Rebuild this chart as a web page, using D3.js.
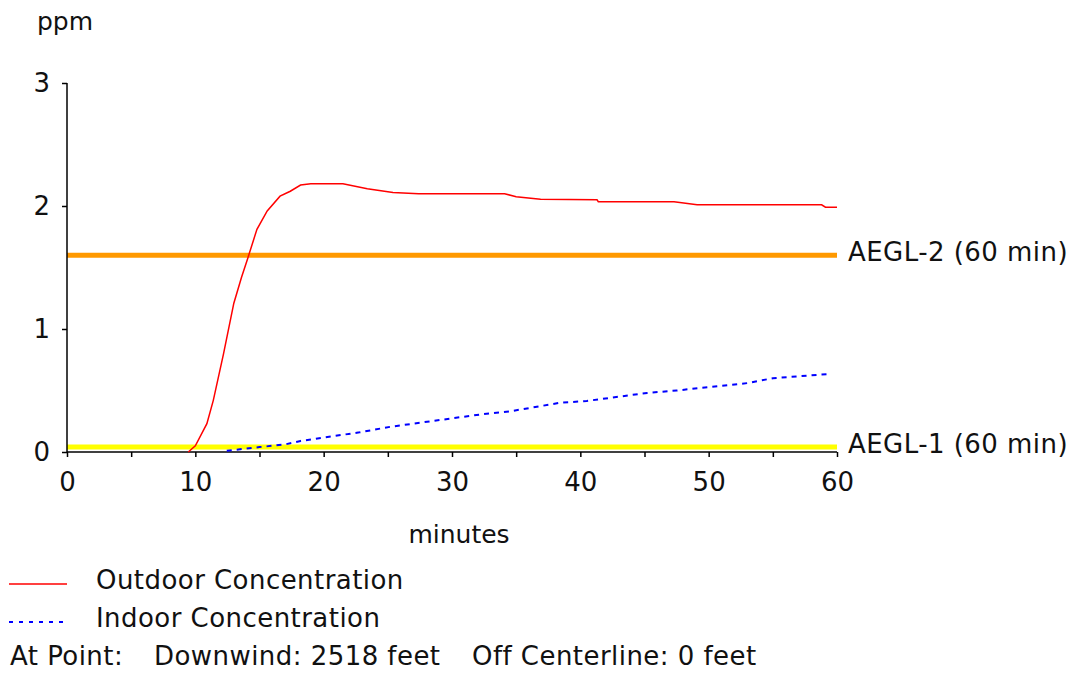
<!DOCTYPE html>
<html>
<head>
<meta charset="utf-8">
<script src="https://cdn.jsdelivr.net/npm/d3@7"></script>
<style>
  html, body { margin: 0; padding: 0; background: #fff; }
  svg { display: block; }
  text { font-family: "DejaVu Sans", Verdana, sans-serif; fill: #111; }
</style>
</head>
<body>
<svg id="chart" width="1080" height="673"></svg>
<script>
// ---- data ----
const outdoorTime = [9.45, 10.0, 10.9, 11.4, 12.2, 13.0, 13.6, 14.1, 14.8, 15.6, 16.6, 17.4, 18.2, 19.0, 21.5, 23.4, 25.4, 27.4, 34.1, 35.0, 36.9, 41.3, 41.4, 47.3, 49.1, 58.8, 59.1, 60];
const outdoorPpm  = [0, 0.05, 0.23, 0.42, 0.80, 1.21, 1.42, 1.58, 1.81, 1.96, 2.08, 2.12, 2.17, 2.18, 2.18, 2.14, 2.11, 2.10, 2.10, 2.075, 2.055, 2.05, 2.035, 2.035, 2.01, 2.01, 1.99, 1.99];
const indoorTime = [12.45, 15.0, 16.9, 17.6, 18.2, 22.8, 25.2, 32.2, 34.5, 38.4, 40.5, 45.2, 47.5, 53.0, 55.0, 59.5];
const indoorPpm  = [0.01, 0.04, 0.06, 0.075, 0.09, 0.16, 0.205, 0.305, 0.33, 0.40, 0.415, 0.48, 0.50, 0.56, 0.60, 0.635];
const thresholdNames = ["AEGL-2 (60 min)", "AEGL-1 (60 min)"];
const thresholdValues = [1.6, 0.04];
const thresholdColors = ["#ff9900", "#ffff00"];
const xTicks = [0, 5, 10, 15, 20, 25, 30, 35, 40, 45, 50, 55, 60];
const yTicks = [0, 1, 2, 3];
const legendNames = ["Outdoor Concentration", "Indoor Concentration"];
const pointInfo = ["At Point:", "Downwind: 2518 feet", "Off Centerline: 0 feet"];

// ---- layout ----
const svg = d3.select("#chart");
const x = d3.scaleLinear().domain([0, 60]).range([67, 837]);
const y = d3.scaleLinear().domain([0, 3]).range([452, 83]);
const FS = 26;
const LS = "0.45px";

// threshold lines
thresholdValues.forEach((v, i) => {
  svg.append("line")
    .attr("x1", x(0)).attr("x2", x(60))
    .attr("y1", y(v)).attr("y2", y(v))
    .attr("stroke", thresholdColors[i]).attr("stroke-width", 5);
  svg.append("text")
    .attr("x", 848).attr("y", y(v) + 6)
    .attr("font-size", FS).attr("letter-spacing", LS)
    .text(thresholdNames[i]);
});

// axes
const xAxis = d3.axisBottom(x).tickValues(xTicks).tickSize(5).tickPadding(16)
  .tickFormat(d => d % 10 === 0 ? d : "");
const gx = svg.append("g").attr("transform", `translate(0,${y(0)})`).call(xAxis);
gx.select(".domain").attr("d", `M${x(0)},0H${x(60)}`);
gx.selectAll("path, line").attr("stroke", "#000").attr("stroke-width", 1.5);
gx.selectAll("text").attr("font-size", FS).attr("font-family", "DejaVu Sans").attr("fill", "#111").attr("dy", "0.71em");

const yAxis = d3.axisLeft(y).tickValues(yTicks).tickSize(5).tickPadding(12).tickFormat(d3.format("d"));
const gy = svg.append("g").attr("transform", `translate(${x(0)},0)`).call(yAxis);
gy.select(".domain").attr("d", `M0,${y(3)}V${y(0)}`);
gy.selectAll("path, line").attr("stroke", "#000").attr("stroke-width", 1.5);
gy.selectAll("text").attr("font-size", FS).attr("font-family", "DejaVu Sans").attr("fill", "#111");

// axis titles
svg.append("text").attr("x", 37).attr("y", 30).attr("font-size", 25).text("ppm");
svg.append("text").attr("x", 459).attr("y", 543).attr("text-anchor", "middle").attr("font-size", 25).text("minutes");

// series
const line = d3.line().x(d => x(d[0])).y(d => y(d[1]));
svg.append("path")
  .datum(outdoorTime.map((t, i) => [t, outdoorPpm[i]]))
  .attr("d", line).attr("fill", "none")
  .attr("stroke", "#ff0000").attr("stroke-width", 1.5);
svg.append("path")
  .datum(indoorTime.map((t, i) => [t, indoorPpm[i]]))
  .attr("d", line).attr("fill", "none")
  .attr("stroke", "#0000ff").attr("stroke-width", 2).attr("stroke-dasharray", "5,5");

// legend
const legY = [584, 622];
const legStyles = [{c: "#ff0000", w: 1.5, dash: null}, {c: "#0000ff", w: 2, dash: "4,6"}];
legendNames.forEach((n, i) => {
  svg.append("line").attr("x1", 9).attr("x2", 67).attr("y1", legY[i]).attr("y2", legY[i])
    .attr("stroke", legStyles[i].c).attr("stroke-width", legStyles[i].w)
    .attr("stroke-dasharray", legStyles[i].dash);
  svg.append("text").attr("x", 96).attr("y", legY[i] + 5).attr("font-size", FS)
    .attr("letter-spacing", LS).text(n);
});
const infoX = [10, 154, 472];
pointInfo.forEach((t, i) => {
  svg.append("text").attr("x", infoX[i]).attr("y", 665).attr("font-size", FS)
    .attr("letter-spacing", LS).text(t);
});
</script>
</body>
</html>
